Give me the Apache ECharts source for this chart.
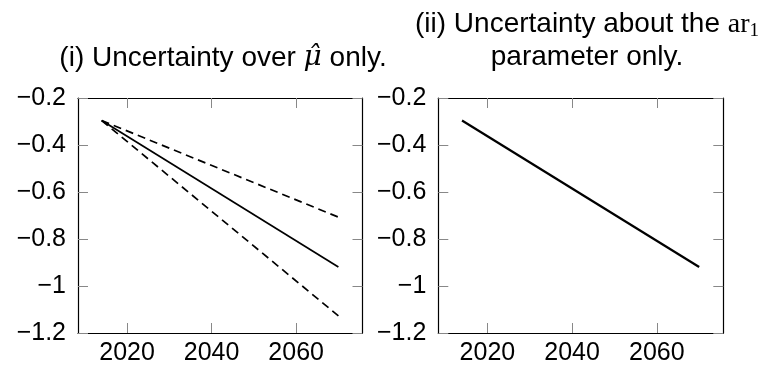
<!DOCTYPE html>
<html>
<head>
<meta charset="utf-8">
<script src="https://cdn.jsdelivr.net/npm/echarts@6/dist/echarts.min.js"></script>
<style>html,body{margin:0;padding:0;background:#fff;}#c{width:763px;height:366px;}</style>
</head>
<body>
<div id="c"></div>
<script>
// Data
const years = [2014, 2070];
const muCentral = [-0.296, -0.919];
const muUpper = [-0.296, -0.707];
const muLower = [-0.296, -1.127];
const arCentral = [-0.296, -0.919];
const xTicks = [2020, 2040, 2060];
const yTicks = [-1.2, -1, -0.8, -0.6, -0.4, -0.2];

const FONT = 'Liberation Sans';
const FS = 25;
const TFS = 28;
const pairs = (xs, ys) => xs.map((x, i) => [x, ys[i]]);
const fmtY = v => String(Math.round(v * 10) / 10).replace('-', '\u2212');
const fmtX = v => String(Math.round(v));

const chart = echarts.init(document.getElementById('c'), null, {renderer: 'canvas'});

function axesFor(gridIndex) {
  const line = {show: true, lineStyle: {color: '#000', width: 1.2}};
  const tick = {show: true, inside: true, length: 10, lineStyle: {color: '#888', width: 1}};
  const xs = [
    {type: 'value', gridIndex, position: 'bottom', min: 2008.4, max: 2075.7,
     axisLine: line, splitLine: {show: false},
     axisTick: Object.assign({customValues: xTicks}, tick),
     axisLabel: {customValues: xTicks, formatter: fmtX, color: '#000', fontFamily: FONT, fontSize: FS, margin: 8}},
    {type: 'value', gridIndex, position: 'top', min: 2008.4, max: 2075.7,
     axisLine: line, splitLine: {show: false},
     axisTick: Object.assign({customValues: xTicks}, tick),
     axisLabel: {show: false}}
  ];
  const ys = [
    {type: 'value', gridIndex, position: 'left', min: -1.2, max: -0.2,
     axisLine: line, splitLine: {show: false},
     axisTick: Object.assign({customValues: yTicks}, tick),
     axisLabel: {customValues: yTicks, formatter: fmtY, color: '#000', fontFamily: FONT, fontSize: FS, margin: 12}},
    {type: 'value', gridIndex, position: 'right', min: -1.2, max: -0.2,
     axisLine: line, splitLine: {show: false},
     axisTick: Object.assign({customValues: yTicks}, tick),
     axisLabel: {show: false}}
  ];
  return {xs, ys};
}
const a0 = axesFor(0), a1 = axesFor(1);

const solid = {color: '#000', width: 1.7, type: 'solid'};
const dashed = {color: '#000', width: 1.7, type: [8, 5]};
const mk = (name, xi, yi, data, ls) => ({
  name, type: 'line', xAxisIndex: xi, yAxisIndex: yi, data,
  showSymbol: false, symbol: 'none', lineStyle: ls, animation: false, silent: true
});

chart.setOption({
  animation: false,
  backgroundColor: '#fff',
  title: [
    {text: '(i) Uncertainty over {m|\u03bc\u0302} only.', left: 218, top: 39, textAlign: 'center',
     textStyle: {fontFamily: FONT, fontSize: TFS, fontWeight: 'normal', color: '#000',
       rich: {m: {fontFamily: 'DejaVu Serif', fontStyle: 'italic', fontSize: TFS, color: '#000'}}}},
    {text: '(ii) Uncertainty about the {r|ar}{s|1}\nparameter only.', left: 582, top: 3, textAlign: 'center',
     textStyle: {fontFamily: FONT, fontSize: TFS, fontWeight: 'normal', color: '#000', lineHeight: 33,
       rich: {r: {fontFamily: 'Liberation Serif', fontSize: TFS, color: '#000', lineHeight: 33},
              s: {fontFamily: 'Liberation Serif', fontSize: 19, color: '#000', verticalAlign: 'bottom', padding: [14, 0, 0, 0], lineHeight: 33}}}}
  ],
  grid: [
    {left: 78, top: 98, width: 284.5, height: 236},
    {left: 438.3, top: 98, width: 285, height: 236}
  ],
  xAxis: [...a0.xs, ...a1.xs],
  yAxis: [...a0.ys, ...a1.ys],
  series: [
    mk('upper', 0, 0, pairs(years, muUpper), dashed),
    mk('lower', 0, 0, pairs(years, muLower), dashed),
    mk('central', 0, 0, pairs(years, muCentral), solid),
    mk('ar', 2, 2, pairs(years, arCentral), {color: '#000', width: 2.2, type: 'solid'})
  ]
});
</script>
</body>
</html>
